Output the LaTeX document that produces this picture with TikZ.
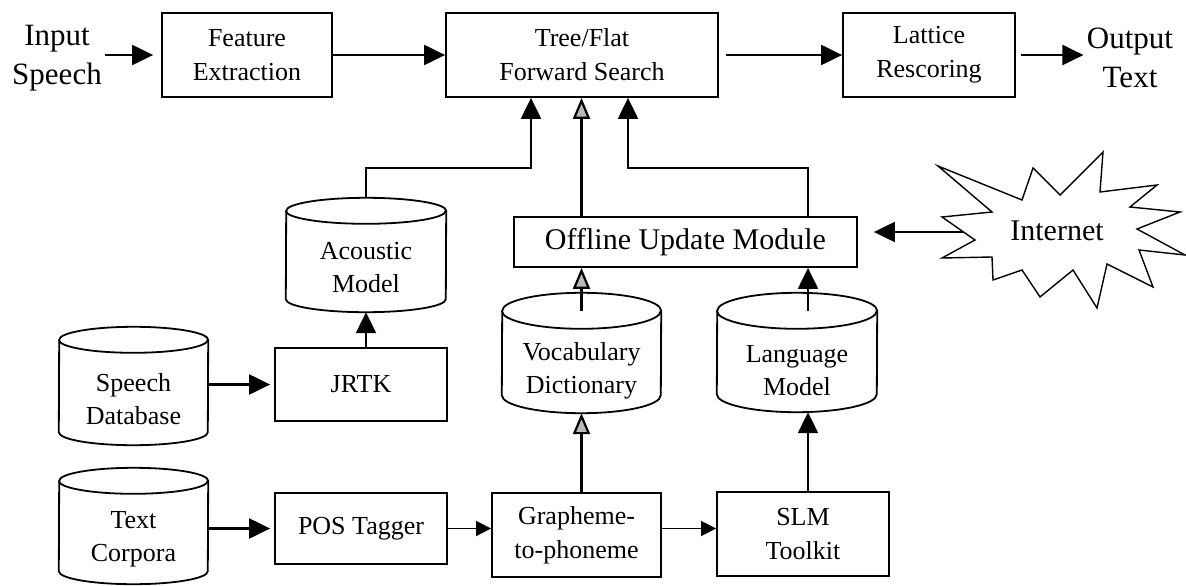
\documentclass[tikz,border=0pt]{standalone}
\usepackage{fontspec}
\setmainfont{Liberation Serif}
\usetikzlibrary{arrows.meta,calc}

\begin{document}
\begin{tikzpicture}[x=1pt,y=-1pt,
		box/.style={draw,line width=1.8pt,align=center,font=\fontsize{26}{34}\selectfont},
		db/.style={align=center,font=\fontsize{26}{33}\selectfont},
		lbl/.style={align=center,font=\fontsize{31}{39}\selectfont},
		arr/.style={line width=2.2pt,-{Triangle[length=21pt,width=20pt]}},
		arrg/.style={line width=2.2pt,-{Triangle[length=21pt,width=17pt,fill=gray!55]}},
		arrs/.style={line width=1.6pt,-{Triangle[length=15pt,width=15pt]}}]
		\useasboundingbox (0,0) rectangle (1186,586);
		% top row
		\node[lbl] (in) at (57,58) {Input\\Speech};
		\node[box,minimum width=170pt,minimum height=84pt] (fe) at (247,55) {Feature\\Extraction};
		\node[box,minimum width=272pt,minimum height=84pt] (tree) at (582,55) {Tree/Flat\\Forward Search};
		\node[box,minimum width=172pt,minimum height=84pt] (lat) at (929,55) {Lattice\\Rescoring};
		\node[lbl] (out) at (1130,58) {Output\\Text};
		% boxes below
		\node[box,minimum width=343pt,minimum height=50pt,font=\fontsize{30}{36}\selectfont] (oum) at (685.5,242) {Offline Update Module};
		\node[box,minimum width=172pt,minimum height=73pt] (jrtk) at (361,384.5) {JRTK};
		\node[box,minimum width=172pt,minimum height=71pt] (pos) at (361,528.5) {POS Tagger};
		\node[box,minimum width=169pt,minimum height=84pt] (g2p) at (576.5,535) {Grapheme-\\to-phoneme};
		\node[box,minimum width=172pt,minimum height=84pt] (slm) at (803,534) {SLM\\Toolkit};
		% databases
		\node[db,minimum width=160pt,minimum height=88pt] (am) at (366,268) {Acoustic\\Model};
		\node[db,minimum width=149pt,minimum height=92pt] (sd) at (133.5,399) {Speech\\Database};
		\node[db,minimum width=149pt,minimum height=90pt] (tc) at (133.5,539) {Text\\Corpora};
		\node[db,minimum width=159pt,minimum height=84pt] (vd) at (581.5,371) {Vocabulary\\Dictionary};
		\node[db,minimum width=160pt,minimum height=83pt] (lm) at (797,370.5) {Language\\Model};
		\foreach \n/\rx/\ry in {am/80/13,sd/74.5/13,tc/74.5/13,vd/79.5/18,lm/80/18}{
			\draw[line width=1.8pt] ($(\n.south west)+(0,-\ry)$) arc[start angle=180,end angle=360,x radius=\rx pt,y radius=\ry pt]
				-- ($(\n.north east)+(0,-\ry)$) arc[start angle=0,end angle=180,x radius=\rx pt,y radius=\ry pt] -- cycle;
			\draw[line width=1.8pt] ($(\n.north west)+(0,-\ry)$) arc[start angle=180,end angle=360,x radius=\rx pt,y radius=\ry pt];
		}
		% internet
		\draw[line width=1.4pt] (938,166)--(1022,200)--(1033,168)--(1060,195)--(1103,152)--(1100,192)--(1157,185)--(1130,207)
			--(1180,212)--(1137,229)--(1185,255)--(1139,250)--(1153,287)--(1107,264)--(1097,308)--(1073,270)
			--(1040,297)--(1022,270)--(993,280)--(992,257)--(942,258)--(975,240)--(942,217)--(992,212)--cycle;
		\node[font=\fontsize{30}{36}\selectfont] (inet) at (1057,231) {Internet};
		\coordinate (netin) at (963,232);
		% arrows
		\draw[arr,shorten >=8pt] (fe.west -| in.east) -- (fe.west);
		\draw[arr] (fe.east) -- (tree.west);
		\draw[arr,shorten <=7pt] (tree.east) -- (lat.west);
		\draw[arr,shorten <=5pt] (lat.east) -- (lat.east -| out.west);
		\draw[arr] ($(am.north)+(0,-26)$) |- ($(tree.south)+(-51,70)$) -- ($(tree.south)+(-51,0)$);
		\draw[arrg] (oum.north -| vd.north) -- (tree.south -| vd.north);
		\coordinate (lmx) at ($(slm.north)+(5,0)$);
		\draw[arr] (oum.north -| lmx) |- ($(tree.south)+(46,70)$) -- ($(tree.south)+(46,0)$);
		\draw[arr,shorten >=16pt] (netin) -- (oum.east |- netin);
		\draw[arr] (jrtk.north -| am.south) -- (am.south);
		\draw[arr,shorten >=4pt] (sd.east |- jrtk.west) -- (jrtk.west);
		\draw[arr,shorten >=4pt] (tc.east |- pos.west) -- (pos.west);
		\draw[arrs] (pos.east) -- (pos.east -| g2p.west);
		\draw[arrs] (g2p.east |- pos.east) -- (slm.west |- pos.east);
		\draw[arrg] (g2p.north -| vd.south) -- (vd.south);
		\draw[arrg] ($(vd.north)+(0,-18)$) -- (oum.south -| vd.north);
		\draw[arr] (slm.north -| lmx) -- (lm.south -| lmx);
		\draw[arr] ($(lmx |- lm.north)+(0,-18)$) -- (oum.south -| lmx);
\end{tikzpicture}
\end{document}
